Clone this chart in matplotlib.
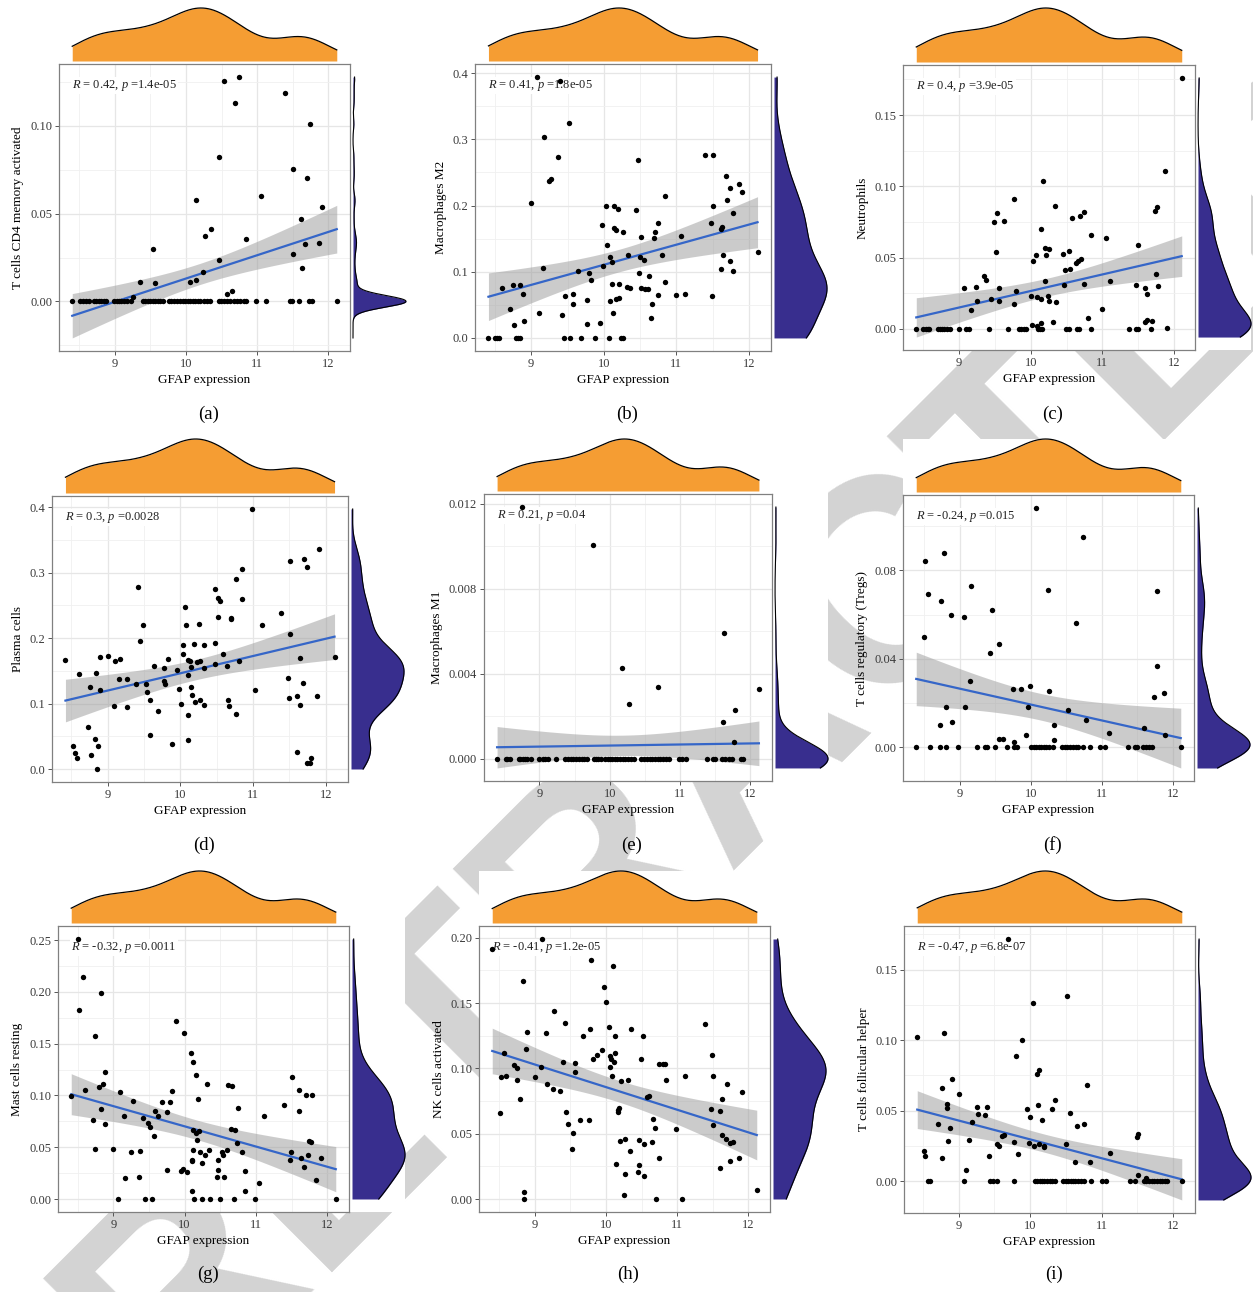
import numpy as np
import matplotlib.pyplot as plt
from matplotlib.patches import Rectangle
from matplotlib.ticker import MultipleLocator
from matplotlib.transforms import blended_transform_factory

plt.rcParams['font.family'] = 'Liberation Serif'
plt.rcParams['mathtext.fontset'] = 'custom'
plt.rcParams['mathtext.rm'] = 'Liberation Serif'
plt.rcParams['mathtext.it'] = 'Liberation Serif:italic'

W, H = 1253, 1292

# ---------------- data (GFAP expression vs. immune cell fraction) ----------------

# (a) T cells CD4 memory activated
cd4_x = [9.26, 9.36, 9.54, 9.57, 10.06, 10.14, 10.14, 10.24, 10.26, 10.35,
         10.46, 10.47, 10.53, 10.58, 10.65, 10.69, 10.75, 10.84, 11.06, 11.39,
         11.50, 11.50, 11.62, 11.63, 11.68, 11.70, 11.74, 11.87, 11.91]
cd4_y = [0.0025, 0.011, 0.030, 0.0103, 0.011, 0.0125, 0.0575, 0.0167, 0.0373, 0.041,
         0.0824, 0.0238, 0.1255, 0.004, 0.006, 0.1127, 0.1277, 0.0354, 0.060, 0.1184,
         0.0753, 0.027, 0.0472, 0.019, 0.0328, 0.070, 0.1011, 0.033, 0.054]
cd4_zero = [8.40, 8.51, 8.55, 8.59, 8.63, 8.70, 8.73, 8.77, 8.80, 8.84,
            8.87, 8.99, 9.03, 9.06, 9.09, 9.13, 9.17, 9.23, 9.39, 9.42,
            9.46, 9.49, 9.53, 9.56, 9.60, 9.63, 9.68, 9.76, 9.79, 9.83,
            9.88, 9.92, 9.96, 9.99, 10.03, 10.06, 10.10, 10.13, 10.17, 10.20,
            10.25, 10.30, 10.34, 10.46, 10.49, 10.53, 10.58, 10.62, 10.67, 10.72,
            10.76, 10.81, 10.84, 10.99, 11.12, 11.46, 11.49, 11.59, 11.73, 11.77,
            12.12]

# (b) Macrophages M2
m2_x = [9.08, 9.39, 9.52, 9.17, 9.37, 9.27, 9.25, 10.47, 11.39, 11.51,
        9.00, 11.69, 11.87, 11.74, 11.91, 10.84, 11.70, 11.51, 10.03, 10.14,
        10.19, 10.45, 11.78, 9.97, 10.75, 11.48, 10.14, 10.17, 10.26, 10.70,
        10.51, 11.06, 10.69, 11.63, 11.61, 10.05, 9.16, 10.09, 10.34, 10.50,
        10.55, 10.12, 10.80, 11.64, 11.74, 9.99, 12.12, 9.64, 9.80, 10.48,
        11.61, 11.78, 10.62, 9.83, 10.85, 8.60, 8.75, 8.84, 10.11, 10.21,
        10.32, 10.36, 10.52, 10.57, 10.61, 8.89, 9.47, 9.58, 10.75, 10.99,
        11.12, 11.49, 10.17, 10.21, 10.09, 9.58, 9.77, 10.66, 8.71, 9.42,
        9.10, 10.13, 10.65, 8.76, 8.90, 9.77, 9.95]
m2_y = [0.394, 0.388, 0.324, 0.304, 0.274, 0.240, 0.2375, 0.269, 0.277, 0.277,
        0.204, 0.2445, 0.2325, 0.226, 0.220, 0.214, 0.208, 0.199, 0.199, 0.200,
        0.194, 0.193, 0.188, 0.170, 0.174, 0.1736, 0.166, 0.163, 0.1595, 0.1595,
        0.1525, 0.1535, 0.151, 0.1675, 0.1645, 0.141, 0.1057, 0.123, 0.126, 0.122,
        0.118, 0.115, 0.126, 0.125, 0.116, 0.109, 0.130, 0.1016, 0.098, 0.098,
        0.1047, 0.1006, 0.0935, 0.087, 0.085, 0.075, 0.0795, 0.0795, 0.081, 0.081,
        0.0765, 0.076, 0.0755, 0.0745, 0.0745, 0.066, 0.064, 0.0664, 0.0654, 0.0644,
        0.067, 0.064, 0.0589, 0.060, 0.0564, 0.0508, 0.0569, 0.0508, 0.0438, 0.0352,
        0.0372, 0.0382, 0.0297, 0.019, 0.026, 0.0216, 0.0226]
m2_zero = [8.41, 8.50, 8.53, 8.56, 8.79, 8.82, 8.85, 9.45, 9.54, 9.69,
           9.88, 10.07, 10.24, 10.27]

# (c) Neutrophils
neu_x = [12.11, 11.87, 10.17, 9.76, 10.34, 11.77, 11.74, 10.74, 9.53, 10.69,
         10.58, 9.63, 9.48, 10.15, 10.84, 11.05, 10.08, 9.52, 10.20, 10.26,
         10.21, 10.45, 10.53, 10.03, 10.55, 10.48, 10.66, 10.70, 10.63, 11.50,
         9.35, 9.37, 9.07, 9.24, 9.56, 10.20, 10.75, 11.11, 11.47, 11.75,
         11.78, 11.59, 11.62, 9.79, 9.44, 9.25, 9.56, 10.00, 10.09, 10.14,
         10.24, 10.26, 10.35, 9.17, 9.76, 10.47, 11.00, 10.80, 10.31, 10.14,
         10.02, 10.09, 11.59, 11.62, 11.69, 11.90]
neu_y = [0.176, 0.111, 0.1037, 0.0909, 0.086, 0.0853, 0.083, 0.0822, 0.0813, 0.079,
         0.078, 0.076, 0.075, 0.0703, 0.0657, 0.0638, 0.0521, 0.054, 0.0568, 0.056,
         0.0519, 0.0526, 0.055, 0.0474, 0.0423, 0.0414, 0.0474, 0.0488, 0.0463, 0.0586,
         0.0374, 0.0343, 0.0287, 0.0297, 0.029, 0.0334, 0.0315, 0.0336, 0.031, 0.0386,
         0.0301, 0.029, 0.0245, 0.0264, 0.021, 0.0198, 0.0198, 0.023, 0.0224, 0.021,
         0.023, 0.0198, 0.0187, 0.0135, 0.0175, 0.031, 0.0143, 0.0077, 0.005, 0.0044,
         0.003, 0.0023, 0.0047, 0.006, 0.0058, 0.0007]
neu_zero = [8.40, 8.50, 8.53, 8.56, 8.58, 8.70, 8.73, 8.76, 8.79, 8.83,
            8.87, 9.00, 9.09, 9.13, 9.42, 9.68, 9.83, 9.86, 9.90, 9.94,
            10.10, 10.13, 10.16, 10.49, 10.53, 10.64, 10.67, 10.84, 11.38, 11.47,
            11.50, 11.68]

# (d) Plasma cells
pla_x = [10.99, 11.91, 11.51, 11.70, 11.74, 10.85, 10.76, 9.42, 10.48, 10.52,
         10.55, 10.85, 10.07, 10.52, 10.69, 10.70, 11.39, 9.48, 10.08, 10.25,
         11.12, 11.51, 9.45, 10.03, 10.19, 10.33, 10.48, 10.59, 10.04, 9.01,
         8.89, 8.42, 9.10, 9.17, 10.11, 10.13, 10.23, 10.27, 9.83, 10.48,
         10.80, 11.65, 12.12, 9.64, 9.78, 10.14, 10.32, 10.64, 8.61, 8.84,
         9.96, 10.10, 9.16, 9.27, 9.77, 9.79, 9.39, 9.53, 8.76, 8.90,
         10.14, 11.48, 11.69, 9.98, 11.03, 9.54, 10.16, 11.50, 11.60, 11.88,
         9.58, 10.27, 10.66, 10.20, 10.01, 10.32, 10.67, 11.64, 9.09, 9.26,
         10.11, 10.76, 9.69, 8.73, 9.58, 8.82, 8.53, 8.87, 10.10, 9.89,
         8.55, 8.58, 8.77, 11.61, 11.79, 11.74, 11.78, 8.85]
pla_y = [0.397, 0.336, 0.318, 0.320, 0.308, 0.305, 0.290, 0.278, 0.275, 0.2606,
         0.256, 0.2596, 0.248, 0.232, 0.230, 0.229, 0.238, 0.220, 0.220, 0.2215,
         0.2195, 0.206, 0.1957, 0.1896, 0.191, 0.1896, 0.193, 0.176, 0.176, 0.1724,
         0.1704, 0.1658, 0.1653, 0.1673, 0.1668, 0.1643, 0.1638, 0.1648, 0.1678, 0.161,
         0.1653, 0.1693, 0.171, 0.1577, 0.1546, 0.155, 0.1546, 0.1567, 0.1455, 0.1465,
         0.1506, 0.143, 0.1369, 0.138, 0.1343, 0.130, 0.1293, 0.130, 0.1247, 0.120,
         0.125, 0.1384, 0.1308, 0.1217, 0.120, 0.117, 0.1125, 0.109, 0.112, 0.111,
         0.106, 0.106, 0.106, 0.102, 0.0989, 0.0978, 0.0958, 0.0973, 0.0958, 0.0948,
         0.0831, 0.0842, 0.0887, 0.0634, 0.0517, 0.0451, 0.0355, 0.0345, 0.0441, 0.0385,
         0.0243, 0.0172, 0.0213, 0.0264, 0.0162, 0.0086, 0.0086, 0.0]
pla_zero = []

# (e) Macrophages M1
m1_x = [8.75, 9.76, 11.63, 10.17, 10.69, 12.12, 10.27, 11.78, 11.61, 11.77]
m1_y = [0.01185, 0.01006, 0.0059, 0.00427, 0.00336, 0.0033, 0.00258, 0.00232, 0.00174, 0.00081]
m1_zero = [8.40, 8.52, 8.54, 8.58, 8.71, 8.73, 8.77, 8.80, 8.83, 8.88,
           9.00, 9.05, 9.08, 9.13, 9.24, 9.37, 9.41, 9.45, 9.48, 9.52,
           9.56, 9.60, 9.64, 9.68, 9.77, 9.81, 9.84, 9.88, 9.94, 9.98,
           10.01, 10.03, 10.07, 10.11, 10.15, 10.19, 10.22, 10.26, 10.30, 10.34,
           10.45, 10.49, 10.53, 10.57, 10.60, 10.64, 10.68, 10.72, 10.76, 10.80,
           10.84, 10.99, 11.03, 11.08, 11.38, 11.47, 11.50, 11.60, 11.64, 11.70,
           11.74, 11.87, 11.90]

# (f) T cells regulatory (Tregs)
treg_x = [10.07, 10.73, 8.78, 8.51, 9.16, 10.24, 11.77, 8.55, 8.74, 8.88,
          9.06, 9.46, 10.63, 8.50, 9.56, 9.43, 11.77, 9.14, 9.99, 9.75,
          9.86, 10.25, 11.87, 11.74, 8.81, 9.08, 9.96, 10.53, 10.78, 8.72,
          8.90, 10.33, 11.10, 11.59, 11.89, 9.93, 9.56, 9.61, 10.33, 9.76]
treg_y = [0.1083, 0.095, 0.0879, 0.0845, 0.073, 0.0712, 0.0708, 0.0694, 0.0662, 0.060,
          0.059, 0.062, 0.0563, 0.0499, 0.0466, 0.0428, 0.0367, 0.030, 0.0277, 0.0262,
          0.0263, 0.0253, 0.0245, 0.0227, 0.0183, 0.018, 0.018, 0.017, 0.0123, 0.0101,
          0.0112, 0.0101, 0.0065, 0.0086, 0.0054, 0.0053, 0.0039, 0.0039, 0.0033, 0.0021]
treg_zero = [8.39, 8.58, 8.73, 8.81, 8.98, 9.24, 9.36, 9.39, 9.50, 9.67,
             9.77, 9.81, 10.01, 10.04, 10.07, 10.11, 10.14, 10.18, 10.21, 10.26,
             10.31, 10.44, 10.48, 10.51, 10.55, 10.59, 10.63, 10.66, 10.73, 10.83,
             10.98, 11.05, 11.37, 11.47, 11.49, 11.58, 11.62, 11.67, 11.71, 12.11]

# (g) Mast cells resting
mast_x = [8.51, 8.57, 8.83, 8.52, 9.88, 9.99, 8.75, 10.09, 10.12, 10.16,
          8.88, 11.50, 10.31, 10.61, 10.66, 8.85, 8.80, 8.60, 9.10, 9.82,
          11.60, 8.41, 11.70, 11.78, 10.19, 9.27, 9.68, 9.79, 8.83, 10.75,
          11.39, 11.60, 9.76, 9.58, 8.71, 9.15, 9.42, 9.62, 11.12, 8.89,
          9.48, 9.52, 9.57, 10.12, 10.16, 10.20, 10.65, 10.70, 10.17, 10.59,
          10.74, 9.00, 8.75, 10.12, 10.34, 9.25, 9.38, 10.21, 10.28, 10.52,
          10.54, 10.80, 11.49, 11.73, 11.74, 11.77, 11.48, 11.63, 11.91, 11.68,
          10.10, 10.11, 10.47, 10.25, 9.76, 9.95, 9.98, 10.03, 10.47, 10.85,
          9.17, 9.36, 10.45, 10.55, 11.84, 11.05, 10.11, 10.84]
mast_y = [0.251, 0.2144, 0.1987, 0.1827, 0.1715, 0.160, 0.1577, 0.141, 0.1324, 0.120,
          0.1228, 0.1176, 0.111, 0.110, 0.1093, 0.1115, 0.108, 0.1048, 0.1029, 0.1038,
          0.1048, 0.0994, 0.100, 0.100, 0.0968, 0.0946, 0.0939, 0.0936, 0.0872, 0.0878,
          0.0907, 0.0853, 0.084, 0.0849, 0.0766, 0.0798, 0.0782, 0.0798, 0.0801, 0.0721,
          0.0737, 0.0699, 0.0612, 0.0667, 0.0638, 0.0654, 0.0673, 0.0667, 0.057, 0.047,
          0.0538, 0.0481, 0.0487, 0.0474, 0.0474, 0.0449, 0.0462, 0.0449, 0.0426, 0.0455,
          0.042, 0.0458, 0.0449, 0.0429, 0.0564, 0.0551, 0.0381, 0.0394, 0.0394, 0.0308,
          0.0381, 0.0369, 0.0375, 0.0349, 0.0279, 0.0272, 0.0288, 0.0263, 0.0279, 0.0266,
          0.0205, 0.0208, 0.0212, 0.0212, 0.0183, 0.0157, 0.0074, 0.0077]
mast_zero = [9.07, 9.44, 9.54, 10.13, 10.24, 10.35, 10.49, 10.69, 10.99, 12.12]

# (h) NK cells activated
nk_x = [8.40, 9.10, 8.83, 9.79, 10.10, 9.97, 10.00, 9.27, 9.42, 11.39,
        10.04, 9.77, 10.35, 8.89, 9.15, 9.68, 10.12, 10.52, 9.94, 8.88,
        10.13, 9.87, 10.06, 9.82, 10.07, 10.49, 8.56, 11.49, 10.11, 9.39,
        9.57, 10.75, 10.80, 10.83, 10.05, 9.08, 8.70, 8.75, 9.57, 10.08,
        8.60, 8.52, 9.00, 11.11, 11.50, 10.31, 10.21, 8.75, 10.84, 9.17,
        11.70, 9.25, 9.36, 11.91, 10.60, 10.58, 8.79, 11.63, 10.18, 10.17,
        10.17, 11.48, 11.60, 8.51, 9.44, 9.63, 9.76, 10.66, 9.47, 10.69,
        10.99, 11.51, 9.54, 11.63, 11.69, 11.75, 11.78, 10.19, 10.26, 10.47,
        10.53, 10.65, 9.52, 10.34, 10.75, 11.74, 11.87, 10.14, 10.47, 10.27,
        10.45, 10.54, 11.60, 8.85, 8.84, 10.25, 10.70, 11.07, 12.12]
nk_y = [0.1916, 0.199, 0.167, 0.183, 0.178, 0.162, 0.1505, 0.144, 0.135, 0.134,
        0.132, 0.130, 0.130, 0.128, 0.127, 0.1246, 0.1249, 0.125, 0.114, 0.1147,
        0.112, 0.110, 0.1096, 0.107, 0.107, 0.107, 0.112, 0.110, 0.105, 0.105,
        0.1043, 0.1035, 0.103, 0.1033, 0.101, 0.101, 0.1025, 0.100, 0.097, 0.094,
        0.0944, 0.093, 0.0934, 0.094, 0.094, 0.091, 0.0906, 0.091, 0.091, 0.088,
        0.088, 0.084, 0.0825, 0.0817, 0.0787, 0.0777, 0.0767, 0.0769, 0.0698, 0.068,
        0.0667, 0.0688, 0.0672, 0.0657, 0.0667, 0.0607, 0.0607, 0.061, 0.0574, 0.0546,
        0.0538, 0.0569, 0.0503, 0.049, 0.0462, 0.0431, 0.044, 0.0444, 0.0457, 0.045,
        0.0419, 0.0437, 0.038, 0.0365, 0.031, 0.0292, 0.0312, 0.0269, 0.0259, 0.0195,
        0.0203, 0.0178, 0.0241, 0.0056, 0.000, 0.0028, 0.000, 0.000, 0.0069]
nk_zero = []

# (i) T cells follicular helper
tfh_x = [9.69, 10.52, 10.04, 8.42, 8.80, 9.88, 9.80, 10.13, 10.09, 8.90,
         10.80, 8.76, 9.00, 10.35, 10.11, 8.84, 8.84, 9.26, 9.39, 9.95,
         10.31, 10.55, 9.27, 9.37, 10.00, 10.17, 9.18, 10.75, 8.71, 10.66,
         8.88, 10.50, 9.60, 9.64, 8.85, 9.15, 9.77, 9.99, 9.53, 9.57,
         10.06, 10.13, 10.20, 10.19, 11.50, 11.51, 11.12, 9.83, 8.52, 8.53,
         8.76, 9.42, 10.62, 10.84, 9.10, 11.51, 11.62]
tfh_y = [0.1717, 0.1311, 0.1264, 0.1025, 0.1054, 0.1004, 0.0886, 0.0787, 0.076, 0.0723,
         0.0683, 0.0659, 0.0619, 0.0576, 0.0543, 0.0546, 0.0515, 0.0524, 0.0524, 0.0513,
         0.0508, 0.0484, 0.0477, 0.047, 0.0458, 0.043, 0.0416, 0.0404, 0.0402, 0.0392,
         0.038, 0.026, 0.0319, 0.0324, 0.0283, 0.0288, 0.0279, 0.0269, 0.026, 0.0248,
         0.025, 0.026, 0.0248, 0.0239, 0.031, 0.0335, 0.0196, 0.0194, 0.021, 0.0175,
         0.0165, 0.0175, 0.0137, 0.0137, 0.008, 0.004, 0.0019]
tfh_zero = [8.57, 8.60, 9.08, 9.44, 9.48, 9.54, 9.77, 10.07, 10.10, 10.14,
            10.17, 10.20, 10.24, 10.27, 10.31, 10.35, 10.46, 10.50, 10.53, 10.57,
            10.60, 10.63, 10.67, 10.71, 10.75, 10.85, 11.00, 11.06, 11.39, 11.47,
            11.59, 11.62, 11.66, 11.70, 11.73, 11.77, 11.81, 11.85, 11.88, 11.92,
            12.12]

# GFAP expression of all samples (top marginal density)
gfap = nk_x

cell_labels = ['T cells CD4 memory activated', 'Macrophages M2', 'Neutrophils',
               'Plasma cells', 'Macrophages M1', 'T cells regulatory (Tregs)',
               'Mast cells resting', 'NK cells activated', 'T cells follicular helper']
cor_r = ['0.42', '0.41', '0.4', '0.3', '0.21', '-0.24', '-0.32', '-0.41', '-0.47']
cor_p = ['1.4e-05', '1.8e-05', '3.9e-05', '0.0028', '0.04', '0.015', '0.0011', '1.2e-05', '6.8e-07']
ytick_sets = [
    ['0.00', '0.05', '0.10'],
    ['0.0', '0.1', '0.2', '0.3', '0.4'],
    ['0.00', '0.05', '0.10', '0.15'],
    ['0.0', '0.1', '0.2', '0.3', '0.4'],
    ['0.000', '0.004', '0.008', '0.012'],
    ['0.00', '0.04', '0.08'],
    ['0.00', '0.05', '0.10', '0.15', '0.20', '0.25'],
    ['0.00', '0.05', '0.10', '0.15', '0.20'],
    ['0.00', '0.05', '0.10', '0.15'],
]
panel_data = [(cd4_x, cd4_y, cd4_zero), (m2_x, m2_y, m2_zero), (neu_x, neu_y, neu_zero),
              (pla_x, pla_y, pla_zero), (m1_x, m1_y, m1_zero), (treg_x, treg_y, treg_zero),
              (mast_x, mast_y, mast_zero), (nk_x, nk_y, nk_zero), (tfh_x, tfh_y, tfh_zero)]

# main panel boxes in pixels: left, top, right, bottom
boxes = [(59, 64, 350, 351), (475, 64, 771, 351), (903, 65, 1195, 350),
         (52, 496, 348, 782), (484, 494, 772, 781), (903, 495, 1194, 781),
         (58, 926, 349, 1212), (479, 926, 770, 1212), (904, 926, 1195, 1213)]
top_peak = [8, 439, 871]
sub_y = [414, 845, 1274]

ORANGE = '#F59D33'
NAVY = '#382E8E'


def kde(v, grid):
    # gaussian kernel density, bandwidth as R's nrd0
    v = np.asarray(v, float)
    n = len(v)
    q75, q25 = np.percentile(v, [75, 25])
    spread = min(np.std(v, ddof=1), (q75 - q25) / 1.34)
    if spread <= 0:
        spread = np.std(v, ddof=1)
    bw = 0.9 * spread * n ** -0.2
    z = (grid[:, None] - v[None, :]) / bw
    return np.exp(-0.5 * z ** 2).sum(1) / (n * bw * np.sqrt(2 * np.pi))


def lm_band(x, y, grid, t=1.984):
    # least squares line with 95% confidence band
    slope, icpt = np.polyfit(x, y, 1)
    n = len(x)
    fit = icpt + slope * grid
    s = np.sqrt(np.sum((y - icpt - slope * x) ** 2) / (n - 2))
    se = s * np.sqrt(1.0 / n + (grid - x.mean()) ** 2 / np.sum((x - x.mean()) ** 2))
    return fit, fit - t * se, fit + t * se


def px_axes(fig, l, t, r, b):
    return fig.add_axes([l / W, 1 - b / H, (r - l) / W, (b - t) / H])


fig = plt.figure(figsize=(W / 100, H / 100), dpi=100)

# page watermark, sitting under the white plot tiles
fig.text(745 / W, 1 - 734 / H, 'RETRACTED', rotation=45, ha='center', va='center',
         fontsize=209, fontweight='bold', family='Liberation Sans', color='#D3D3D3',
         zorder=-3)

for k in range(9):
    xs, ys, zeros = panel_data[k]
    x = np.array(list(xs) + list(zeros), float)
    y = np.array(list(ys) + [0.0] * len(zeros), float)
    l, t, r, b = boxes[k]
    row = k // 3

    # white tile behind the scatter and both marginals
    fig.patches.append(Rectangle((l / W, 1 - b / H), (r + 56 - l) / W, (b - top_peak[row]) / H,
                                 transform=fig.transFigure, facecolor='white',
                                 edgecolor='none', zorder=-2))

    grid = np.linspace(x.min(), x.max(), 120)
    fit, lo, hi = lm_band(x, y, grid)

    xlo, xhi = x.min(), x.max()
    ylo, yhi = min(y.min(), lo.min()), max(y.max(), hi.max())
    xpad, ypad = 0.05 * (xhi - xlo), 0.05 * (yhi - ylo)

    ax = px_axes(fig, l, t, r, b)
    ax.fill_between(grid, lo, hi, color='#999999', alpha=0.5, lw=0, zorder=2)
    ax.plot(grid, fit, color='#3566C8', lw=1.6, zorder=3)
    ax.scatter(x, y, s=15, color='black', lw=0, zorder=5)
    ax.set_xlim(xlo - xpad, xhi + xpad)
    ax.set_ylim(ylo - ypad, yhi + ypad)

    labels = ytick_sets[k]
    yt = [float(s) for s in labels]
    ax.set_yticks(yt)
    ax.set_yticklabels(labels)
    ax.yaxis.set_minor_locator(MultipleLocator((yt[1] - yt[0]) / 2))
    ax.set_xticks([9, 10, 11, 12])
    ax.xaxis.set_minor_locator(MultipleLocator(0.5))
    ax.grid(which='major', color='#E6E6E6', lw=0.9)
    ax.grid(which='minor', color='#F0F0F0', lw=0.6)
    ax.set_axisbelow(True)
    ax.tick_params(which='major', direction='out', length=3, width=0.7, color='#555555',
                   labelsize=9, labelcolor='#3A3A3A', pad=2)
    ax.tick_params(which='minor', length=0)
    for sp in ax.spines.values():
        sp.set_color('#808080')
        sp.set_linewidth(0.9)
    ax.set_xlabel('GFAP expression', fontsize=9.5, labelpad=3)
    ax.set_ylabel(cell_labels[k], fontsize=9.5, labelpad=4)

    tr = blended_transform_factory(ax.transData, ax.transAxes)
    ax.text(xlo, 0.925, r'$R$ = ' + cor_r[k] + r', $p$ =' + cor_p[k], transform=tr,
            ha='left', va='center', fontsize=9, color='#222222', zorder=4,
            bbox=dict(facecolor='white', edgecolor='none', pad=1.0))

    # top marginal: GFAP density
    axt = px_axes(fig, l, top_peak[row], r, t - 3)
    gx = np.linspace(xlo, xhi, 300)
    dx = kde(gfap, gx)
    axt.fill_between(gx, 0, dx, color=ORANGE, lw=0)
    axt.plot(gx, dx, color='black', lw=0.9, clip_on=False)
    axt.set_xlim(ax.get_xlim())
    axt.set_ylim(0, dx.max())
    axt.axis('off')

    # right marginal: cell fraction density
    axr = px_axes(fig, r + 3, t, r + 56, b)
    gy = np.linspace(ylo, yhi, 400)
    dy = kde(y, gy)
    axr.fill_betweenx(gy, 0, dy, color=NAVY, lw=0)
    axr.plot(dy, gy, color='black', lw=0.8, clip_on=False)
    axr.set_ylim(ax.get_ylim())
    axr.set_xlim(0, dy.max())
    axr.axis('off')

    fig.text(((l + r) / 2 + 4) / W, 1 - sub_y[row] / H, '(' + 'abcdefghi'[k] + ')',
             ha='center', va='center', fontsize=13.5)

fig.savefig('out.png', dpi=100)
